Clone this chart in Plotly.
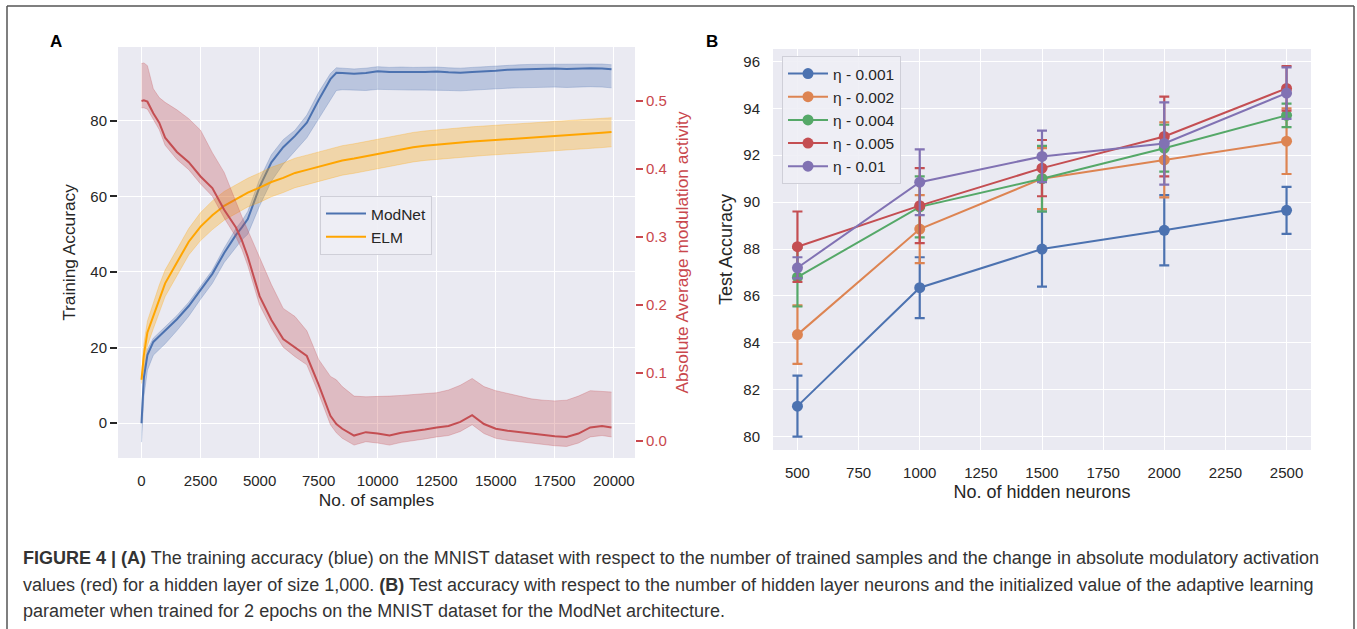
import plotly.graph_objects as go

W, H = 1357, 629

# ---------------- Panel A data ----------------
samples = [0, 100, 250, 500, 750, 1000, 1500, 2000, 2500, 3000, 3500, 4000, 4250, 4500,
           5000, 5500, 6000, 6500, 7000, 7500, 8000, 8250, 8500, 9000, 9500, 10000, 10500,
           11000, 11500, 12000, 12500, 13000, 13500, 14000, 14500, 15000, 15500, 16000,
           16500, 17000, 17500, 18000, 18500, 19000, 19500, 19900]
sample_ticks = [0, 2500, 5000, 7500, 10000, 12500, 15000, 17500, 20000]

modnet_mean = [0, 12, 18, 21.5, 23, 24.5, 27.5, 31, 35.3, 39.5, 45, 49.8, 51.8, 54,
               62.5, 69, 73, 76, 79.5, 85.5, 91, 92.7, 92.6, 92.4, 92.6, 93.1, 92.9,
               93.0, 92.9, 92.9, 93.0, 92.8, 92.7, 92.9, 93.0, 93.2, 93.5, 93.6,
               93.7, 93.7, 93.8, 93.7, 93.8, 93.9, 93.8, 93.6]
modnet_upper = [2, 14, 19.5, 22.5, 24, 25.5, 28.5, 32, 36.3, 40.5, 46.3, 51.5, 53.5, 56,
                64.5, 71, 75, 77.5, 81.5, 87.5, 92.5, 94, 93.9, 93.7, 93.9, 94.3, 94.1,
                94.2, 94.1, 94.1, 94.2, 94.0, 93.9, 94.1, 94.3, 94.5, 94.7, 94.8,
                94.9, 94.9, 95.0, 94.9, 95.0, 95.1, 95.0, 94.8]
modnet_lower = [-5, 7, 14, 18, 19.5, 21, 24.5, 28.3, 32.8, 37, 42.5, 46.5, 48.5, 50,
                57.5, 64, 68.5, 72, 75.5, 80.5, 85.5, 88, 88.2, 88.0, 88.0, 88.3, 88.2,
                88.2, 88.1, 88.1, 88.1, 88.0, 87.9, 88.1, 88.3, 88.5, 88.6, 88.7,
                88.8, 88.8, 88.9, 88.8, 88.9, 89.0, 88.9, 88.7]

elm_mean = [11.5, 18, 24, 28.5, 33, 37, 42.5, 48, 52, 55, 57.5, 59.3, 60.2, 61,
            62.3, 63.8, 64.9, 66.2, 67, 67.8, 68.7, 69.1, 69.5, 70, 70.6, 71.3, 71.9,
            72.5, 73, 73.4, 73.7, 74.0, 74.3, 74.5, 74.7, 74.9, 75.1, 75.3,
            75.5, 75.6, 75.8, 76.1, 76.4, 76.6, 76.8, 77]
elm_upper = [12, 21, 27, 32, 36.5, 40.5, 46, 51.5, 55.7, 58.8, 61.3, 63.1, 64, 64.8,
             66.2, 67.7, 68.8, 70.1, 70.9, 71.7, 72.6, 73, 73.4, 73.9, 74.5, 75.2, 75.8,
             76.4, 76.9, 77.3, 77.6, 77.9, 78.2, 78.4, 78.6, 78.8, 79.0, 79.2,
             79.4, 79.5, 79.7, 80.0, 80.2, 80.4, 80.6, 80.8]
elm_lower = [10.5, 14.5, 20.5, 25, 29.5, 33.5, 39, 44.5, 48.3, 51.2, 53.7, 55.5, 56.4, 57.2,
             58.4, 59.9, 61.0, 62.3, 63.1, 63.9, 64.8, 65.2, 65.6, 66.1, 66.7, 67.4, 68.0,
             68.6, 69.1, 69.5, 69.8, 70.1, 70.4, 70.6, 70.8, 71.0, 71.2, 71.4,
             71.6, 71.7, 71.9, 72.2, 72.5, 72.7, 72.9, 73.1]

mod_mean = [0.5, 0.501, 0.499, 0.482, 0.468, 0.446, 0.425, 0.41, 0.389, 0.372, 0.34, 0.314, 0.295, 0.271,
            0.213, 0.178, 0.15, 0.137, 0.125, 0.083, 0.037, 0.025, 0.018, 0.008, 0.013, 0.011, 0.008,
            0.012, 0.014, 0.017, 0.02, 0.022, 0.028, 0.038, 0.025, 0.018, 0.015, 0.013,
            0.011, 0.008, 0.007, 0.006, 0.011, 0.02, 0.022, 0.02]
mod_upper = [0.555, 0.556, 0.552, 0.518, 0.505, 0.498, 0.487, 0.474, 0.457, 0.424, 0.395, 0.35, 0.33, 0.31,
             0.27, 0.23, 0.195, 0.183, 0.162, 0.12, 0.095, 0.09, 0.08, 0.066, 0.065, 0.065, 0.066,
             0.067, 0.068, 0.07, 0.071, 0.075, 0.082, 0.092, 0.08, 0.074, 0.07, 0.066,
             0.062, 0.06, 0.059, 0.06, 0.066, 0.074, 0.073, 0.072]
mod_lower = [0.49, 0.49, 0.488, 0.472, 0.458, 0.435, 0.414, 0.399, 0.378, 0.36, 0.328, 0.3, 0.282, 0.258,
             0.2, 0.166, 0.138, 0.124, 0.112, 0.07, 0.024, 0.012, 0.004, -0.006, -0.001, -0.003, -0.006,
             -0.002, 0.0, 0.003, 0.006, 0.008, 0.014, 0.024, 0.011, 0.004, 0.001, -0.001,
             -0.003, -0.006, -0.007, -0.008, -0.003, 0.006, 0.008, 0.006]

# ---------------- Panel B data ----------------
neurons = [500, 1000, 1500, 2000, 2500]
neuron_ticks = [500, 750, 1000, 1250, 1500, 1750, 2000, 2250, 2500]
eta_labels = ["η - 0.001", "η - 0.002", "η - 0.004", "η - 0.005", "η - 0.01"]
acc_0001 = [81.3, 86.35, 88.0, 88.8, 89.65]
err_0001 = [1.3, 1.3, 1.6, 1.5, 1.0]
acc_0002 = [84.35, 88.85, 91.0, 91.8, 92.6]
err_0002 = [1.25, 1.45, 1.3, 1.6, 1.4]
acc_0004 = [86.8, 89.8, 91.0, 92.3, 93.7]
err_0004 = [1.25, 1.3, 1.4, 1.0, 0.5]
acc_0005 = [88.1, 89.85, 91.45, 92.8, 94.85]
err_0005 = [1.5, 1.6, 1.2, 1.7, 0.95]
acc_001 = [87.2, 90.85, 91.95, 92.5, 94.65]
err_001 = [0.45, 1.4, 1.1, 1.75, 1.1]

# ---------------- styling ----------------
BG = "#EAEAF2"
FONT = "Liberation Sans, Arial, Helvetica, sans-serif"
TXT = "#262626"
RED_AX = "#C9474D"
C_MODNET = "#4C72B0"
C_ELM = "#FFA500"
C_MOD = "#C44E52"
DEEP = ["#4C72B0", "#DD8452", "#55A868", "#C44E52", "#8172B3"]


def rgba(hex_c, a):
    h = hex_c.lstrip("#")
    return "rgba(%d,%d,%d,%s)" % (int(h[0:2], 16), int(h[2:4], 16), int(h[4:6], 16), a)


def px_x(p):
    return p / W


def px_y(p):
    return 1 - p / H


fig = go.Figure()


def band(x, lo, hi, color, yaxis):
    fig.add_trace(go.Scatter(x=x, y=hi, mode="lines", line=dict(width=0.8, color=rgba(color, 0.35)),
                             showlegend=False, hoverinfo="skip", xaxis="x", yaxis=yaxis))
    fig.add_trace(go.Scatter(x=x, y=lo, mode="lines", line=dict(width=0.8, color=rgba(color, 0.35)),
                             fill="tonexty", fillcolor=rgba(color, 0.3),
                             showlegend=False, hoverinfo="skip", xaxis="x", yaxis=yaxis))


band(samples, modnet_lower, modnet_upper, C_MODNET, "y")
fig.add_trace(go.Scatter(x=samples, y=modnet_mean, mode="lines", name="ModNet",
                         line=dict(color=C_MODNET, width=2), xaxis="x", yaxis="y", legend="legend"))
band(samples, elm_lower, elm_upper, C_ELM, "y")
fig.add_trace(go.Scatter(x=samples, y=elm_mean, mode="lines", name="ELM",
                         line=dict(color=C_ELM, width=2), xaxis="x", yaxis="y", legend="legend"))
band(samples, mod_lower, mod_upper, C_MOD, "y2")
fig.add_trace(go.Scatter(x=samples, y=mod_mean, mode="lines", showlegend=False,
                         line=dict(color=C_MOD, width=2), xaxis="x", yaxis="y2"))

for lab, acc, err, col in zip(eta_labels,
                              [acc_0001, acc_0002, acc_0004, acc_0005, acc_001],
                              [err_0001, err_0002, err_0004, err_0005, err_001], DEEP):
    fig.add_trace(go.Scatter(x=neurons, y=acc, mode="lines+markers", name=lab,
                             line=dict(color=col, width=2),
                             marker=dict(color=col, size=11),
                             error_y=dict(type="data", array=err, visible=True, color=col,
                                          thickness=2.2, width=5),
                             xaxis="x2", yaxis="y3", legend="legend2"))

tickfont = dict(family=FONT, size=15, color=TXT)
titlefont_a = dict(family=FONT, size=17.3, color=TXT)
titlefont_b = dict(family=FONT, size=18, color=TXT)

fig.update_layout(
    width=W, height=H,
    margin=dict(l=0, r=0, t=0, b=0),
    paper_bgcolor="white",
    plot_bgcolor=BG,
    font=dict(family=FONT, color=TXT),
    xaxis=dict(domain=[px_x(118), px_x(635)], range=[-995, 20895], anchor="y",
               tickvals=sample_ticks, ticktext=[str(v) for v in sample_ticks],
               showgrid=True, gridcolor="white", gridwidth=1.4, zeroline=False,
               ticks="outside", ticklen=9, tickcolor="rgba(0,0,0,0)",
               tickfont=tickfont, showline=False,
               title=dict(text="No. of samples", font=titlefont_a, standoff=5)),
    yaxis=dict(domain=[px_y(458), px_y(47)], range=[-9.2, 99.5], anchor="x",
               tickvals=[0, 20, 40, 60, 80],
               showgrid=True, gridcolor="white", gridwidth=1.4, zeroline=False,
               ticks="outside", ticklen=7, tickwidth=1.6, tickcolor=TXT,
               tickfont=tickfont, showline=False,
               title=dict(text="Training Accuracy", font=titlefont_a, standoff=10)),
    yaxis2=dict(range=[-0.025, 0.5794], overlaying="y", side="right", anchor="x",
                tickvals=[0.0, 0.1, 0.2, 0.3, 0.4, 0.5], ticktext=["0.0", "0.1", "0.2", "0.3", "0.4", "0.5"],
                showgrid=False, zeroline=False,
                ticks="outside", ticklen=7, tickwidth=1.6, tickcolor=RED_AX,
                tickfont=dict(family=FONT, size=15, color=RED_AX),
                title=dict(text="Absolute Average modulation activity",
                           font=dict(family=FONT, size=17.3, color=RED_AX), standoff=10)),
    xaxis2=dict(domain=[px_x(773), px_x(1311)], range=[400, 2600], anchor="y3",
                tickvals=neuron_ticks, ticktext=[str(v) for v in neuron_ticks],
                showgrid=True, gridcolor="white", gridwidth=1.4, zeroline=False,
                ticks="outside", ticklen=9, tickcolor="rgba(0,0,0,0)",
                tickfont=tickfont,
                title=dict(text="No. of hidden neurons", font=titlefont_b, standoff=5)),
    yaxis3=dict(domain=[px_y(450), px_y(49)], range=[79.43, 96.53], anchor="x2",
                tickvals=[80, 82, 84, 86, 88, 90, 92, 94, 96],
                showgrid=True, gridcolor="white", gridwidth=1.4, zeroline=False,
                ticks="outside", ticklen=9, tickcolor="rgba(0,0,0,0)",
                tickfont=tickfont,
                title=dict(text="Test Accuracy", font=titlefont_b, standoff=6)),
    legend=dict(x=px_x(320), y=px_y(196), xanchor="left", yanchor="top", traceorder="normal",
                bgcolor="rgba(238,238,245,0.9)", bordercolor="#CFCFD8", borderwidth=1,
                font=dict(family=FONT, size=15.5, color=TXT), itemwidth=40),
    legend2=dict(x=px_x(782), y=px_y(56), xanchor="left", yanchor="top", traceorder="normal",
                 bgcolor="rgba(238,238,245,0.9)", bordercolor="#CFCFD8", borderwidth=1,
                 font=dict(family=FONT, size=15.5, color=TXT), itemwidth=40),
    showlegend=True,
)

# panel letters
fig.add_annotation(x=px_x(56), y=px_y(41), xref="paper", yref="paper", text="<b>A</b>",
                   xanchor="center", yanchor="middle",
                   showarrow=False, font=dict(family=FONT, size=17, color="black"))
fig.add_annotation(x=px_x(712), y=px_y(41), xref="paper", yref="paper", text="<b>B</b>",
                   xanchor="center", yanchor="middle",
                   showarrow=False, font=dict(family=FONT, size=17, color="black"))

# caption
caption_lines = [
    "<b>FIGURE 4 | (A)</b> The training accuracy (blue) on the MNIST dataset with respect to the number of trained samples and the change in absolute modulatory activation",
    "values (red) for a hidden layer of size 1,000. <b>(B)</b> Test accuracy with respect to the number of hidden layer neurons and the initialized value of the adaptive learning",
    "parameter when trained for 2 epochs on the MNIST dataset for the ModNet architecture.",
]
for line, yc in zip(caption_lines, [558, 585, 611]):
    fig.add_annotation(x=px_x(21), y=px_y(yc), xref="paper", yref="paper", text=line,
                       xanchor="left", yanchor="middle", showarrow=False, align="left",
                       font=dict(family=FONT, size=18, color="#333333"))

# border (open at bottom)
for x0, x1, y0, y1 in [(7, 7, 640, 6), (7, 1354, 6, 6), (1354, 1354, 640, 6)]:
    fig.add_shape(type="line", xref="paper", yref="paper",
                  x0=px_x(x0), x1=px_x(x1), y0=px_y(y0), y1=px_y(y1),
                  line=dict(color="#555555", width=1.5))

fig.write_html("out.html", config={"displayModeBar": False},
               post_script="document.body.style.margin='0px';document.body.style.overflow='hidden';")
